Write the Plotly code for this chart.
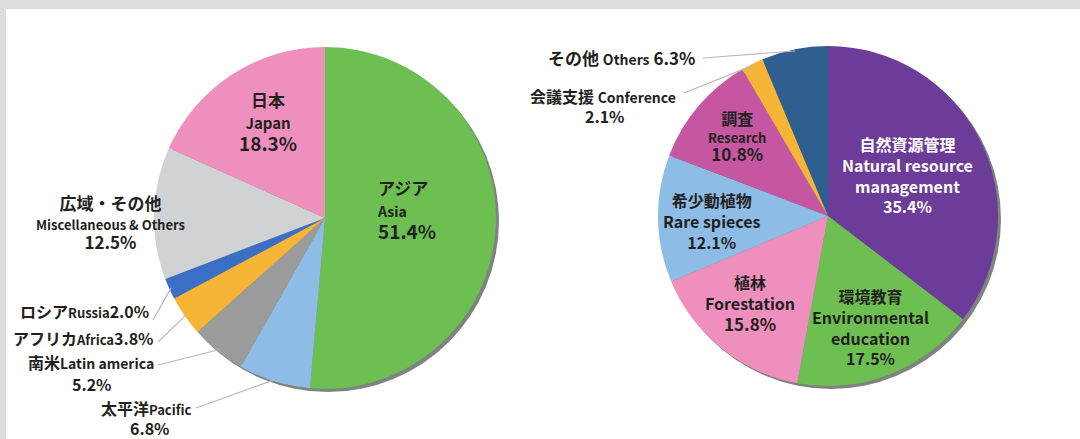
import math
import plotly.graph_objects as go

W, H = 1080, 439

# ---------------- data ----------------
region_jp = ["アジア", "太平洋", "南米", "アフリカ", "ロシア", "広域・その他", "日本"]
region_en = ["Asia", "Pacific", "Latin america", "Africa", "Russia", "Miscellaneous & Others", "Japan"]
region_pct = [51.4, 6.8, 5.2, 3.8, 2.0, 12.5, 18.3]
region_colors = ["#6cbf50", "#8dbde6", "#9b9b9b", "#f6b537", "#3b6ec5", "#d1d2d3", "#ee8fbd"]

field_jp = ["自然資源管理", "環境教育", "植林", "希少動植物", "調査", "会議支援", "その他"]
field_en = ["Natural resource management", "Environmental education", "Forestation",
            "Rare spieces", "Research", "Conference", "Others"]
field_pct = [35.4, 17.5, 15.8, 12.1, 10.8, 2.1, 6.3]
field_colors = ["#6b3d99", "#6cbf50", "#ee8fbd", "#8dbde6", "#c556a1", "#f6b537", "#2e5f8e"]

FONT = "Noto Sans CJK JP, Noto Sans, sans-serif"
TXT = "#231f20"

# pie geometry (pixels)
L_CX, L_CY, L_R = 325, 218, 171
R_CX, R_CY, R_R = 828, 216, 170


def dom(cx, cy, r):
    return dict(x=[(cx - r) / W, (cx + r) / W], y=[(H - cy - r) / H, (H - cy + r) / H])


def mid_point(values, idx, cx, cy, r, f=0.99):
    tot = sum(values)
    before = sum(values[:idx])
    frac = (before + values[idx] / 2) / tot
    th = 2 * math.pi * frac
    return cx + f * r * math.sin(th), cy - f * r * math.cos(th)


fig = go.Figure()

# shadows
for cx, cy, r in [(L_CX, L_CY, L_R), (R_CX, R_CY, R_R)]:
    fig.add_trace(go.Pie(values=[1], labels=["shadow"], domain=dom(cx + 3, cy + 3, r),
                         marker=dict(colors=["rgba(20,30,20,0.55)"], line=dict(width=0)),
                         textinfo="none", hoverinfo="skip", showlegend=False, sort=False))

fig.add_trace(go.Pie(values=region_pct, labels=[f"{a} {b}" for a, b in zip(region_jp, region_en)],
                     domain=dom(L_CX, L_CY, L_R), sort=False, direction="clockwise", rotation=0,
                     marker=dict(colors=region_colors, line=dict(width=0)),
                     textinfo="none", hoverinfo="label+percent", showlegend=False))
fig.add_trace(go.Pie(values=field_pct, labels=[f"{a} {b}" for a, b in zip(field_jp, field_en)],
                     domain=dom(R_CX, R_CY, R_R), sort=False, direction="clockwise", rotation=0,
                     marker=dict(colors=field_colors, line=dict(width=0)),
                     textinfo="none", hoverinfo="label+percent", showlegend=False))

ann = []


def sp(t, s):
    return f"<span style='font-size:{s}px'>{t}</span>"


def pct(v):
    return f"{v:.1f}%"


def add(text, px, py, size, anchor="center", color=TXT):
    ann.append(dict(text=text, x=px / W, y=1 - py / H, xref="paper", yref="paper",
                    xanchor=anchor, yanchor="middle", align=anchor if anchor != "center" else "center",
                    showarrow=False,
                    font=dict(family=FONT, size=size, color=color, weight="bold")))


def block(lines, px, py, base, anchor="center", color=TXT):
    add("<br>".join(sp(t, s) for t, s in lines), px, py, base, anchor, color)


# ---- left pie labels ----
block([(region_jp[6], 17), (region_en[6], 15), (pct(region_pct[6]), 19)], 268, 121, 17)
block([(region_jp[0], 17), (region_en[0], 14), (pct(region_pct[0]), 19)], 375, 210, 17, "left")
block([(region_jp[5], 17), (region_en[5], 13), (pct(region_pct[5]), 17)], 110, 222, 15)

add(region_jp[4] + sp(region_en[4], 13) + pct(region_pct[4]), 151, 311, 16, "right")
add(region_jp[3] + sp(region_en[3], 13) + pct(region_pct[3]), 156, 338, 16, "right")
add(region_jp[2] + sp(region_en[2], 14), 156, 362, 16, "right")
add(pct(region_pct[2]), 92, 384, 16)
add(region_jp[1] + sp(region_en[1], 13), 193, 408, 16, "right")
add(pct(region_pct[1]), 150, 428, 16)

# ---- right pie labels ----
add(field_jp[6] + " " + sp(field_en[6], 14) + " " + pct(field_pct[6]), 697, 58, 17, "right")
add(field_jp[5] + " " + sp(field_en[5], 14), 678, 96, 16, "right")
add(pct(field_pct[5]), 605, 116, 16)

block([(field_jp[4], 16), (field_en[4], 13), (pct(field_pct[4]), 17)], 737, 136, 14)
block([(field_jp[0], 16), ("Natural resource", 16), ("management", 16), (pct(field_pct[0]), 16)],
      907, 175, 16, color="white")
block([(field_jp[3], 16), (field_en[3], 16), (pct(field_pct[3]), 16)], 712, 221, 16)
block([(field_jp[2], 16), (field_en[2], 16), (pct(field_pct[2]), 17)], 750, 303, 16)
block([(field_jp[1], 16), ("Environmental", 16), ("education", 16), (pct(field_pct[1]), 16)],
      870, 327, 16)

# ---- shapes: frame + leader lines ----
shapes = [
    dict(type="rect", xref="paper", yref="paper", x0=0, x1=1, y0=1 - 9 / H, y1=1,
         fillcolor="#dcdddf", line=dict(width=0), layer="below"),
    dict(type="rect", xref="paper", yref="paper", x0=0, x1=6 / W, y0=0, y1=1,
         fillcolor="#dcdddf", line=dict(width=0), layer="below"),
]


def leader(x0, y0, x1, y1):
    shapes.append(dict(type="line", xref="paper", yref="paper",
                       x0=x0 / W, y0=1 - y0 / H, x1=x1 / W, y1=1 - y1 / H,
                       line=dict(color="#b8b8b8", width=1.2)))


for idx, (sx, sy) in {4: (153, 320), 3: (158, 342), 2: (158, 365), 1: (196, 408)}.items():
    ex, ey = mid_point(region_pct, idx, L_CX, L_CY, L_R)
    leader(sx, sy, ex, ey)

for idx, (sx, sy) in {6: (703, 58), 5: (684, 93)}.items():
    ex, ey = mid_point(field_pct, idx, R_CX, R_CY, R_R)
    leader(sx, sy, ex, ey)

fig.update_layout(width=W, height=H, margin=dict(l=0, r=0, t=0, b=0),
                  paper_bgcolor="white", plot_bgcolor="white",
                  annotations=ann, shapes=shapes)

fig.write_html("out.html", config={"displayModeBar": False},
               post_script="document.body.style.margin='0px';document.body.style.overflow='hidden';")
